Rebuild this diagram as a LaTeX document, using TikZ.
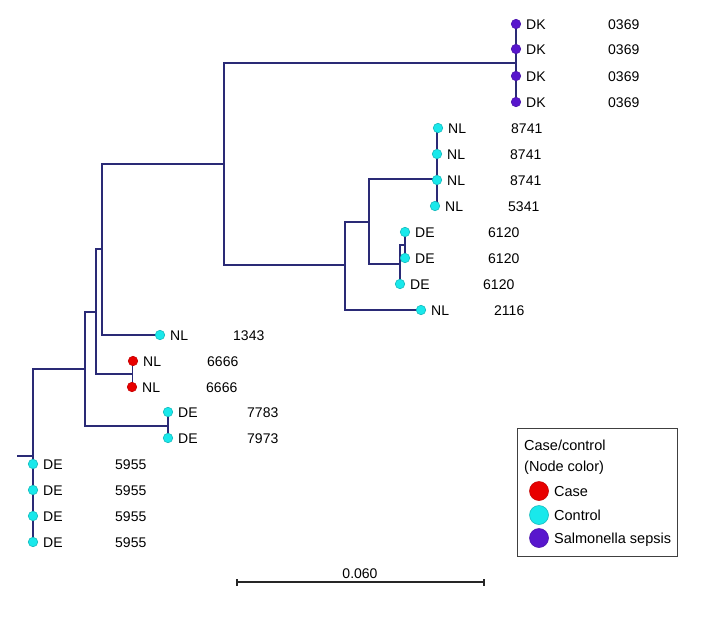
\documentclass[tikz,border=0pt]{standalone}
\usepackage{fontspec}
\setmainfont{Liberation Sans}
\usepackage{tikz}
\usetikzlibrary{backgrounds}
\definecolor{branchblue}{RGB}{42,42,118}
\definecolor{casered}{RGB}{232,0,0}
\definecolor{ctrlcyan}{RGB}{25,232,235}
\definecolor{sepsispurple}{RGB}{88,22,205}
% leaf: name, x, y, style, country, isolate number, offset of the number
\newcommand{\leaf}[7]{%
  \node[#4] (#1) at (#2,#3) {};
  \node[tag] (#1c) at (#2+10,#3) {#5};
  \node[tag] (#1n) at (#2+#7,#3) {#6};
}

\begin{document}
\begin{tikzpicture}[x=1pt,y=-1pt]
    %
    % `branch' is used for the tree edges.
    % `case', `control' and `sepsis' are the coloured tips.
    % `tag' is used for all texts.
    \tikzstyle{branch} = [draw=branchblue,line width=1.5pt]
    \tikzstyle{tip} = [circle,inner sep=0pt,minimum size=9.5pt,line width=0.6pt]
    \tikzstyle{case} = [tip,fill=casered,draw=casered!85!black]
    \tikzstyle{control} = [tip,fill=ctrlcyan,draw=ctrlcyan!80!black]
    \tikzstyle{sepsis} = [tip,fill=sepsispurple,draw=sepsispurple!85!black]
    \tikzstyle{tag} = [anchor=west,inner sep=0pt,text height=10pt,text depth=0pt,font=\fontsize{14pt}{16pt}\selectfont]
    \tikzstyle{keytag} = [tag,font=\fontsize{14.5pt}{17pt}\selectfont]
    \tikzstyle{keydot} = [minimum size=19pt]
    %
    \useasboundingbox (0,0) rectangle (701,616);
    %
    % Tips
    \leaf{dka}{516}{24}{sepsis}{DK}{0369}{92}
    \leaf{dkb}{516}{49}{sepsis}{DK}{0369}{92}
    \leaf{dkc}{516}{76}{sepsis}{DK}{0369}{92}
    \leaf{dkd}{516}{102}{sepsis}{DK}{0369}{92}
    \leaf{nla}{438}{128}{control}{NL}{8741}{73}
    \leaf{nlb}{437}{154}{control}{NL}{8741}{73}
    \leaf{nlc}{437}{180}{control}{NL}{8741}{73}
    \leaf{nld}{435}{206}{control}{NL}{5341}{73}
    \leaf{dea}{405}{232}{control}{DE}{6120}{83}
    \leaf{deb}{405}{258}{control}{DE}{6120}{83}
    \leaf{dec}{400}{284}{control}{DE}{6120}{83}
    \leaf{nle}{421}{310}{control}{NL}{2116}{73}
    \leaf{nlf}{160}{335}{control}{NL}{1343}{73}
    \leaf{nlg}{133}{361}{case}{NL}{6666}{74}
    \leaf{nlh}{132}{387}{case}{NL}{6666}{74}
    \leaf{ded}{168}{412}{control}{DE}{7783}{79}
    \leaf{dee}{168}{438}{control}{DE}{7973}{79}
    \leaf{def}{33}{464}{control}{DE}{5955}{82}
    \leaf{deg}{33}{490}{control}{DE}{5955}{82}
    \leaf{deh}{33}{516}{control}{DE}{5955}{82}
    \leaf{dei}{33}{542}{control}{DE}{5955}{82}
    %
    % Inner nodes
    \coordinate (stub) at (17,456);
    \coordinate (root) at (33,456);
    \coordinate (ja) at (85,369);
    \coordinate (jb) at (96,312);
    \coordinate (jc) at (102,249);
    \coordinate (jd) at (224,164);
    \coordinate (je) at (516,63);
    \coordinate (jf) at (345,265);
    \coordinate (jg) at (369,222);
    \coordinate (jh) at (437,179);
    \coordinate (ji) at (400,264);
    \coordinate (jj) at (405,245);
    \coordinate (jk) at (132.5,374);
    \coordinate (jl) at (168,426);
    %
    % Branches
    \begin{scope}[on background layer]
    \draw[branch] (stub) -- (root);
    \draw[branch] (root) |- (ja) (root) |- (def.center) (root) |- (dei.center);
    \draw[branch] (ja) |- (jb) (ja) |- (jl);
    \draw[branch] (jl) |- (ded.center) (jl) |- (dee.center);
    \draw[branch] (jb) |- (jc) (jb) |- (jk);
    \draw[branch] (jk) |- (nlg.center) (jk) |- (nlh.center);
    \draw[branch] (jc) |- (jd) (jc) |- (nlf.center);
    \draw[branch] (jd) |- (je) (jd) |- (jf);
    \draw[branch] (je) |- (dka.center) (je) |- (dkd.center);
    \draw[branch] (jf) |- (jg) (jf) |- (nle.center);
    \draw[branch] (jg) |- (jh) (jg) |- (ji);
    \draw[branch] (jh) |- (nla.center) (jh) |- (nlb.center) (jh) |- (nld.center);
    \draw[branch] (ji) |- (jj) (ji) |- (dec.center);
    \draw[branch] (jj) |- (dea.center) (jj) |- (deb.center);
    \end{scope}
    %
    % Legend
    \node[draw=black!75,line width=1pt,minimum width=160pt,minimum height=128pt,inner sep=0pt] (legend) at (597,492) {};
    \node[keytag] (keyhead) at (524,445) {Case/control};
    \node[keytag] (keysub) at (524,466) {(Node color)};
    \node[case,keydot] (keycase) at (539,491) {};
    \node[keytag] (keycasetxt) at (554,491) {Case};
    \node[control,keydot] (keyctrl) at (539,515) {};
    \node[keytag] (keyctrltxt) at (554,515) {Control};
    \node[sepsis,keydot] (keysep) at (539,538) {};
    \node[keytag] (keyseptxt) at (554,538) {Salmonella sepsis};
    %
    % Scale bar
    \coordinate (sa) at (237,582);
    \coordinate (sb) at (484,582);
    \draw[black!85,line width=1.2pt] (sa) -- (sb);
    \draw[black!85,line width=1.2pt] ([yshift=-3.5pt]sa) -- ([yshift=3.5pt]sa);
    \draw[black!85,line width=1.2pt] ([yshift=-3.5pt]sb) -- ([yshift=3.5pt]sb);
    \node[tag,anchor=center] (scale) at (360,573) {0.060};
    %
\end{tikzpicture}
\end{document}
